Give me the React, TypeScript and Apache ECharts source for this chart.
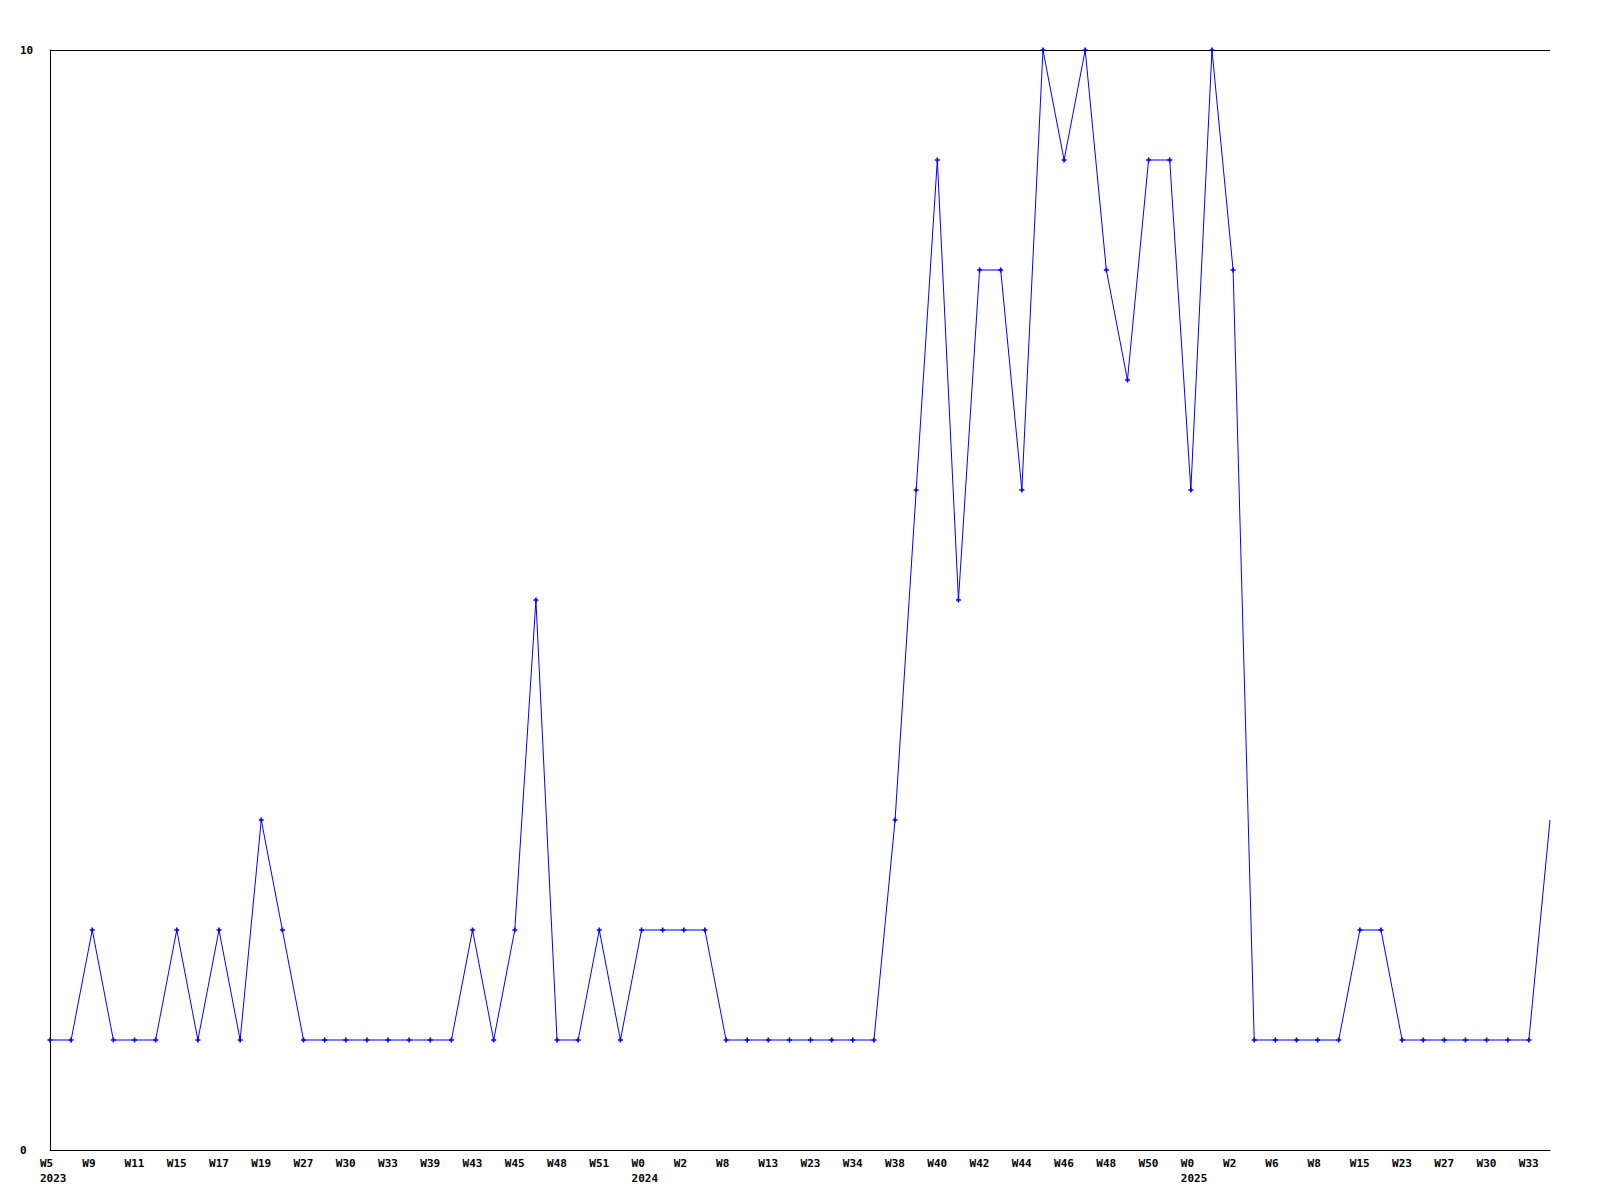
import React, { useEffect, useRef } from "react";
import * as echarts from "echarts";

const weeks: string[] = [
  "W5", "W7", "W9", "W10", "W11", "W13", "W15", "W16", "W17", "W18",
  "W19", "W22", "W27", "W29", "W30", "W31", "W33", "W36", "W39", "W41",
  "W43", "W44", "W45", "W46", "W48", "W49", "W51", "W52", "W0", "W1",
  "W2", "W5", "W8", "W10", "W13", "W19", "W23", "W30", "W34", "W36",
  "W38", "W39", "W40", "W41", "W42", "W43", "W44", "W45", "W46", "W47",
  "W48", "W49", "W50", "W51", "W0", "W1", "W2", "W4", "W6", "W7",
  "W8", "W12", "W15", "W18", "W23", "W26", "W27", "W29", "W30", "W31",
  "W33", "W35",
];

// year label shown under the first week of each year
const yearMarks: Record<number, string> = { 0: "2023", 28: "2024", 54: "2025" };

const values: number[] = [
  1, 1, 2, 1, 1, 1, 2, 1, 2, 1,
  3, 2, 1, 1, 1, 1, 1, 1, 1, 1,
  2, 1, 2, 5, 1, 1, 2, 1, 2, 2,
  2, 2, 1, 1, 1, 1, 1, 1, 1, 1,
  3, 6, 9, 5, 8, 8, 6, 10, 9, 10,
  8, 7, 9, 9, 6, 10, 8, 1, 1, 1,
  1, 1, 2, 2, 1, 1, 1, 1, 1, 1,
  1, 3,
];

const yTicks = { min: 0, max: 10, interval: 10 };

export default function App() {
  const ref = useRef<HTMLDivElement>(null);
  useEffect(() => {
    if (!ref.current) return;
    const chart = echarts.init(ref.current, undefined, { renderer: "svg" });
    const cats = weeks.map((w, i) => `${i}|${w}`);
    const font = {
      fontFamily: "DejaVu Sans Mono",
      fontWeight: "bold" as const,
      fontSize: 11,
      color: "#000",
    };
    const plus = "path://M2,0H4V2H6V4H4V6H2V4H0V2H2Z";
    chart.setOption({
      animation: false,
      backgroundColor: "#fff",
      grid: { left: 50, right: 50, top: 50, bottom: 50 },
      xAxis: {
        type: "category",
        data: cats,
        boundaryGap: false,
        axisLine: { show: true, lineStyle: { color: "#000", width: 1 } },
        axisTick: { show: false },
        splitLine: { show: false },
        axisLabel: {
          ...font,
          interval: 1,
          align: "left",
          margin: 6,
          lineHeight: 15,
          padding: [0, 0, 0, -10],
          formatter: (v: string, i: number) => {
            const w = v.split("|")[1];
            return yearMarks[i] ? `${w}\n${yearMarks[i]}` : w;
          },
        },
      },
      yAxis: {
        type: "value",
        min: yTicks.min,
        max: yTicks.max,
        interval: yTicks.interval,
        axisLine: { show: true, lineStyle: { color: "#000", width: 1 } },
        axisTick: { show: false },
        splitLine: { show: true, lineStyle: { color: "#000", width: 1 } },
        axisLabel: { ...font, align: "left", margin: 30 },
      },
      series: [
        {
          type: "line",
          data: values.map((v, i) =>
            i === values.length - 1 ? { value: v, symbol: "none" } : v
          ),
          symbol: plus,
          symbolSize: 5,
          showAllSymbol: true,
          itemStyle: { color: "#0000ff" },
          lineStyle: { color: "#0000ff", width: 1 },
        },
      ],
    });
    return () => chart.dispose();
  }, []);
  return <div ref={ref} style={{ width: 1600, height: 1200, margin: -8 }} />;
}
